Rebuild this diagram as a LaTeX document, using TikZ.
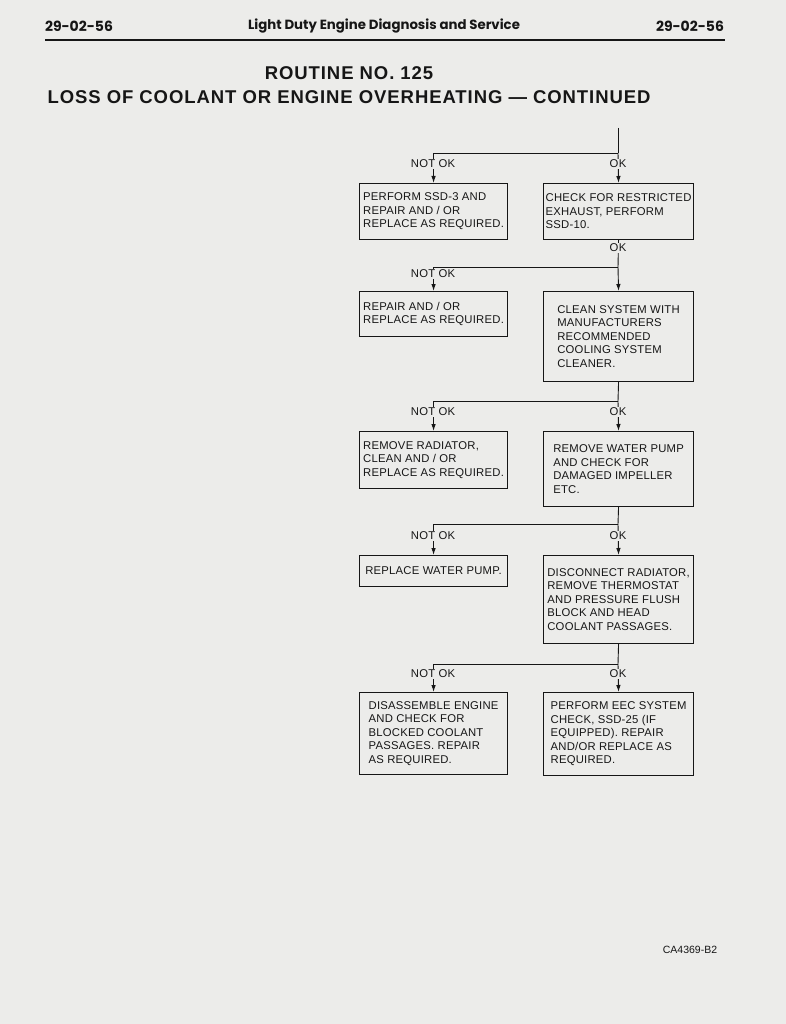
\documentclass[tikz,border=0pt]{standalone}
\usepackage{fontspec}
\setmainfont{Liberation Sans}
\newfontfamily\boxfont[LetterSpace=2]{Liberation Sans}
\newfontfamily\titlefont[LetterSpace=5]{Liberation Sans}
\newfontfamily\headfont{Poppins}
\usetikzlibrary{arrows.meta}
\definecolor{paper}{RGB}{236,236,234}
\definecolor{ink}{RGB}{22,22,22}

\begin{document}
\begin{tikzpicture}[
    x=1pt, y=-1pt,
    box/.style={
        draw=ink,
        line width=1.1pt,
        anchor=north west,
        align=left,
        minimum width=#1,
        inner xsep=2pt,
        inner ysep=2pt,
        text=ink,
        font=\boxfont\fontsize{11.3}{13.5}\selectfont
    },
    branch/.style={fill=paper, inner sep=1pt, text=ink,
        font=\boxfont\fontsize{11.3}{13}\selectfont},
    arrow/.style={-{Latex[length=7pt,width=4.5pt]}, draw=ink, line width=0.9pt},
    wire/.style={draw=ink, line width=0.9pt}
]

% Page
\fill[paper] (0,0) rectangle (786,1024);
\useasboundingbox (0,0) rectangle (786,1024);

% Header
\node[text=ink, font=\headfont\bfseries\fontsize{14}{17}\selectfont] (pgleft) at (79,26) {29-02-56};
\node[text=ink, font=\headfont\bfseries\fontsize{13.3}{16}\selectfont] (pghead) at (384,26) {Light Duty Engine Diagnosis and Service};
\node[text=ink, font=\headfont\bfseries\fontsize{14}{17}\selectfont] (pgright) at (690,26) {29-02-56};
\draw[ink, line width=1.3pt] (45,40) -- (725,40);

\node[text=ink, font=\titlefont\bfseries\fontsize{18.5}{22}\selectfont] (routine) at (349,73) {ROUTINE NO. 125};
\node[text=ink, font=\titlefont\bfseries\fontsize{18.5}{22}\selectfont] (loss) at (349,97) {LOSS OF COOLANT OR ENGINE OVERHEATING — CONTINUED};

% Nodes
\node[box=148, minimum height=56] (ssd) at (359,183) {PERFORM SSD-3 AND\\REPAIR AND / OR\\REPLACE AS REQUIRED.};
\node[box=150, minimum height=56] (restrict) at (543,183) {CHECK FOR RESTRICTED\\EXHAUST, PERFORM\\SSD-10.};

\node[box=148, minimum height=45] (repair) at (359,291) {REPAIR AND / OR\\REPLACE AS REQUIRED.};
\node[box=150, minimum height=90] (clean) at (543,291) {CLEAN SYSTEM WITH\\MANUFACTURERS\\RECOMMENDED\\COOLING SYSTEM\\CLEANER.};

\node[box=148, minimum height=57] (radiator) at (359,431) {REMOVE RADIATOR,\\CLEAN AND / OR\\REPLACE AS REQUIRED.};
\node[box=150, minimum height=75] (pump) at (543,431) {REMOVE WATER PUMP\\AND CHECK FOR\\DAMAGED IMPELLER\\ETC.};

\node[box=148, minimum height=31] (replace) at (359,555) {REPLACE WATER PUMP.};
\node[box=150, minimum height=88] (flush) at (543,555) {DISCONNECT RADIATOR,\\REMOVE THERMOSTAT\\AND PRESSURE FLUSH\\BLOCK AND HEAD\\COOLANT PASSAGES.};

\node[box=148, minimum height=82] (engine) at (359,692) {DISASSEMBLE ENGINE\\AND CHECK FOR\\BLOCKED COOLANT\\PASSAGES. REPAIR\\AS REQUIRED.};
\node[box=150, minimum height=83] (eec) at (543,692) {PERFORM EEC SYSTEM\\CHECK, SSD-25 (IF\\EQUIPPED). REPAIR\\AND/OR REPLACE AS\\REQUIRED.};

\node[text=ink, font=\fontsize{10.5}{12}\selectfont] (figid) at (690,950) {CA4369-B2};

% Branch points
\coordinate (top) at (618,128);
\coordinate (j1) at (618,153);
\coordinate (j2) at (618,267);
\coordinate (j3) at (618,401);
\coordinate (j4) at (618,524);
\coordinate (j5) at (618,664);

% Connectors
\draw[wire] (top) -- (j1);
\draw[arrow] (j1) -| (ssd.north);
\draw[arrow] (j1) -- (restrict.north);

\draw[wire] (restrict.south) -- (j2);
\draw[arrow] (j2) -| (repair.north);
\draw[arrow] (j2) -- (clean.north);

\draw[wire] (clean.south) -- (j3);
\draw[arrow] (j3) -| (radiator.north);
\draw[arrow] (j3) -- (pump.north);

\draw[wire] (pump.south) -- (j4);
\draw[arrow] (j4) -| (replace.north);
\draw[arrow] (j4) -- (flush.north);

\draw[wire] (flush.south) -- (j5);
\draw[arrow] (j5) -| (engine.north);
\draw[arrow] (j5) -- (eec.north);

% Branch labels
\node[branch] (nok1) at (433,164) {NOT OK};
\node[branch] (ok1) at (618,164) {OK};
\node[branch] (ok1b) at (618,248) {OK};
\node[branch] (nok2) at (433,274) {NOT OK};
\node[branch] (nok3) at (433,412) {NOT OK};
\node[branch] (ok3) at (618,412) {OK};
\node[branch] (nok4) at (433,536) {NOT OK};
\node[branch] (ok4) at (618,536) {OK};
\node[branch] (nok5) at (433,674) {NOT OK};
\node[branch] (ok5) at (618,674) {OK};

\end{tikzpicture}
\end{document}
